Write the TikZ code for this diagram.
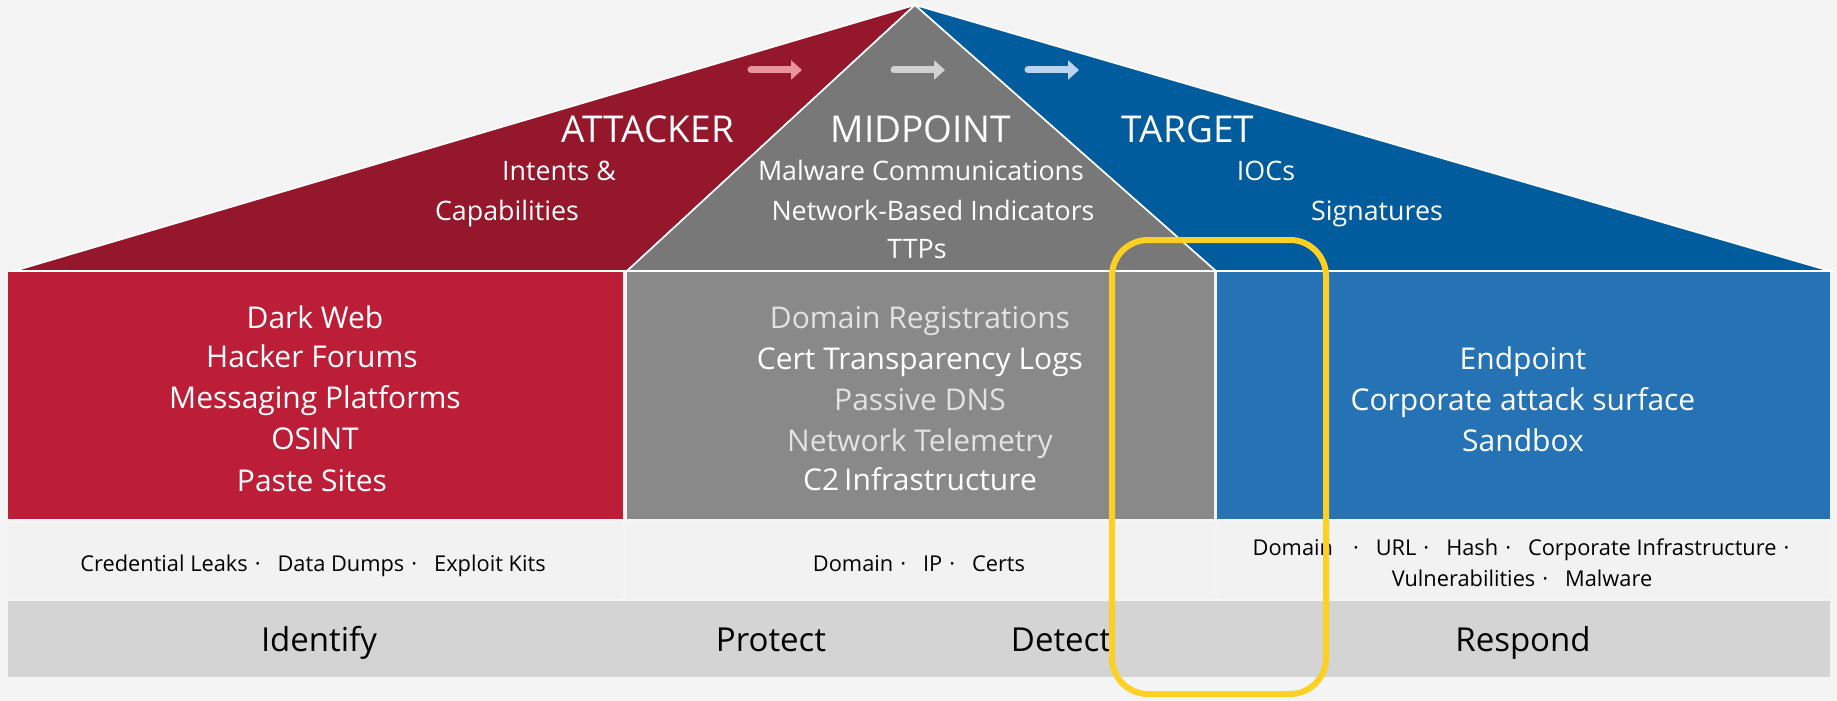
\documentclass[tikz,border=0pt]{standalone}
\usepackage{fontspec}
\setmainfont{Open Sans}
\usetikzlibrary{arrows.meta}
\definecolor{bg}{HTML}{F4F4F4}
\definecolor{roofred}{HTML}{95172B}
\definecolor{roofgray}{HTML}{787878}
\definecolor{roofblue}{HTML}{005C9C}
\definecolor{boxred}{HTML}{BC1E38}
\definecolor{boxgray}{HTML}{898989}
\definecolor{boxblue}{HTML}{2573B4}
\definecolor{rowlight}{HTML}{F2F2F2}
\definecolor{rowbar}{HTML}{D4D4D4}
\definecolor{hilite}{HTML}{FDD123}
\definecolor{arrred}{HTML}{E8969B}
\definecolor{arrgray}{HTML}{D2D2D2}
\definecolor{arrblue}{HTML}{BBD4F0}
\definecolor{softwhite}{HTML}{E2E2E2}
\newcommand{\fs}[1]{\fontsize{#1}{#1}\selectfont}
% separators used in the indicator lists
\newcommand{\sepdot}{\hspace{7pt}·\hspace{17pt}}
\tikzset{
  lbl/.style={inner sep=0pt, anchor=center, text depth=0pt},
  title/.style={lbl, text=white, font=\fs{37}, text height=26.4pt},
  rooftext/.style={lbl, text=white, font=\fs{26.8}, text height=19.1pt},
  boxtext/.style={lbl, text=white, font=\fs{30}, text height=21.4pt},
  listtext/.style={lbl, text=black, font=\fs{21.8}, text height=15.6pt},
  phase/.style={lbl, text=black, font=\fs{33}, text height=23.6pt},
  flow/.style={line width=7pt, line cap=round, -{Triangle[length=11pt,width=19pt]}},
  seam/.style={draw=white, line width=1.6pt},
}
\begin{document}
\begin{tikzpicture}[x=1pt,y=-1pt]
\useasboundingbox (0,0) rectangle (1837,701);
\fill[bg] (0,0) rectangle (1837,701);

% roof
\coordinate (apex) at (915,5);
\coordinate (rl) at (14,271);
\coordinate (rm1) at (627,271);
\coordinate (rm2) at (1216,271);
\coordinate (rr) at (1830,271);
\filldraw[fill=roofred, seam] (rl) -- (apex) -- (rm1) -- cycle;
\filldraw[fill=roofgray, seam] (rm1) -- (apex) -- (rm2) -- cycle;
\filldraw[fill=roofblue, seam] (rm2) -- (apex) -- (rr) -- cycle;

% flow arrows
\coordinate (a1s) at (751,70); \coordinate (a1e) at (802,70);
\coordinate (a2s) at (894,70); \coordinate (a2e) at (945,70);
\coordinate (a3s) at (1028,70); \coordinate (a3e) at (1079,70);
\draw[flow, arrred] (a1s) -- (a1e);
\draw[flow, arrgray] (a2s) -- (a2e);
\draw[flow, arrblue] (a3s) -- (a3e);

% roof labels
\node[title] (attacker) at (648,129) {ATTACKER};
\node[title] (midpoint) at (921,129) {MIDPOINT};
\node[title] (target) at (1188,129) {TARGET};
\node[rooftext] (intents) at (559,171) {Intents \&};
\node[rooftext] (capab) at (507,211) {Capabilities};
\node[rooftext] (malware) at (921,171) {Malware Communications};
\node[rooftext] (netind) at (933,211) {Network-Based Indicators};
\node[rooftext] (ttps) at (917,249) {TTPs};
\node[rooftext] (iocs) at (1266,171) {IOCs};
\node[rooftext] (sigs) at (1377,211) {Signatures};

% middle boxes
\fill[boxred] (8,272) rectangle (623,519);
\fill[boxgray] (627,272) rectangle (1214,519);
\fill[boxblue] (1217,272) rectangle (1830,519);

\node[boxtext] (darkweb) at (315,318) {Dark Web};
\node[boxtext] (forums) at (312,357) {Hacker Forums};
\node[boxtext] (msg) at (315,398) {Messaging Platforms};
\node[boxtext] (osint) at (315,439) {OSINT};
\node[boxtext] (paste) at (312,481) {Paste Sites};

\node[boxtext, text=softwhite] (domreg) at (920,318) {Domain Registrations};
\node[boxtext] (certlog) at (920,359) {Cert Transparency Logs};
\node[boxtext, text=softwhite] (pdns) at (920,400) {Passive DNS};
\node[boxtext, text=softwhite] (telem) at (920,441) {Network Telemetry};
\node[boxtext] (c2) at (920,480) {C2\,Infrastructure};

\node[boxtext] (endpoint) at (1523,359) {Endpoint};
\node[boxtext] (surface) at (1523,400) {Corporate attack surface};
\node[boxtext] (sandbox) at (1523,441) {Sandbox};

% indicator row
\fill[rowlight] (8,523) rectangle (623,599);
\fill[rowlight] (627,523) rectangle (1214,599);
\fill[rowlight] (1217,523) rectangle (1830,599);
\node[listtext] (atkind) at (313,564) {Credential Leaks\sepdot Data Dumps\sepdot Exploit Kits};
\node[listtext] (midind) at (919,564) {Domain\sepdot IP\sepdot Certs};
\node[listtext] (tgtind1) at (1521,548) {Domain\hspace{20pt}·\hspace{17pt}URL\sepdot Hash\sepdot Corporate Infrastructure\hspace{7pt}·};
\node[listtext] (tgtind2) at (1522,579) {Vulnerabilities\sepdot Malware};

% phase bar
\fill[rowbar] (8,601) rectangle (1830,677);
\node[phase] (identify) at (319,640) {Identify};
\node[phase] (protect) at (771,640) {Protect};
\node[phase] (detect) at (1061,640) {Detect};
\node[phase] (respond) at (1523,640) {Respond};

% highlight frame
\draw[hilite, line width=6pt, rounded corners=36pt] (1112,240) rectangle (1326,694);
\end{tikzpicture}
\end{document}
